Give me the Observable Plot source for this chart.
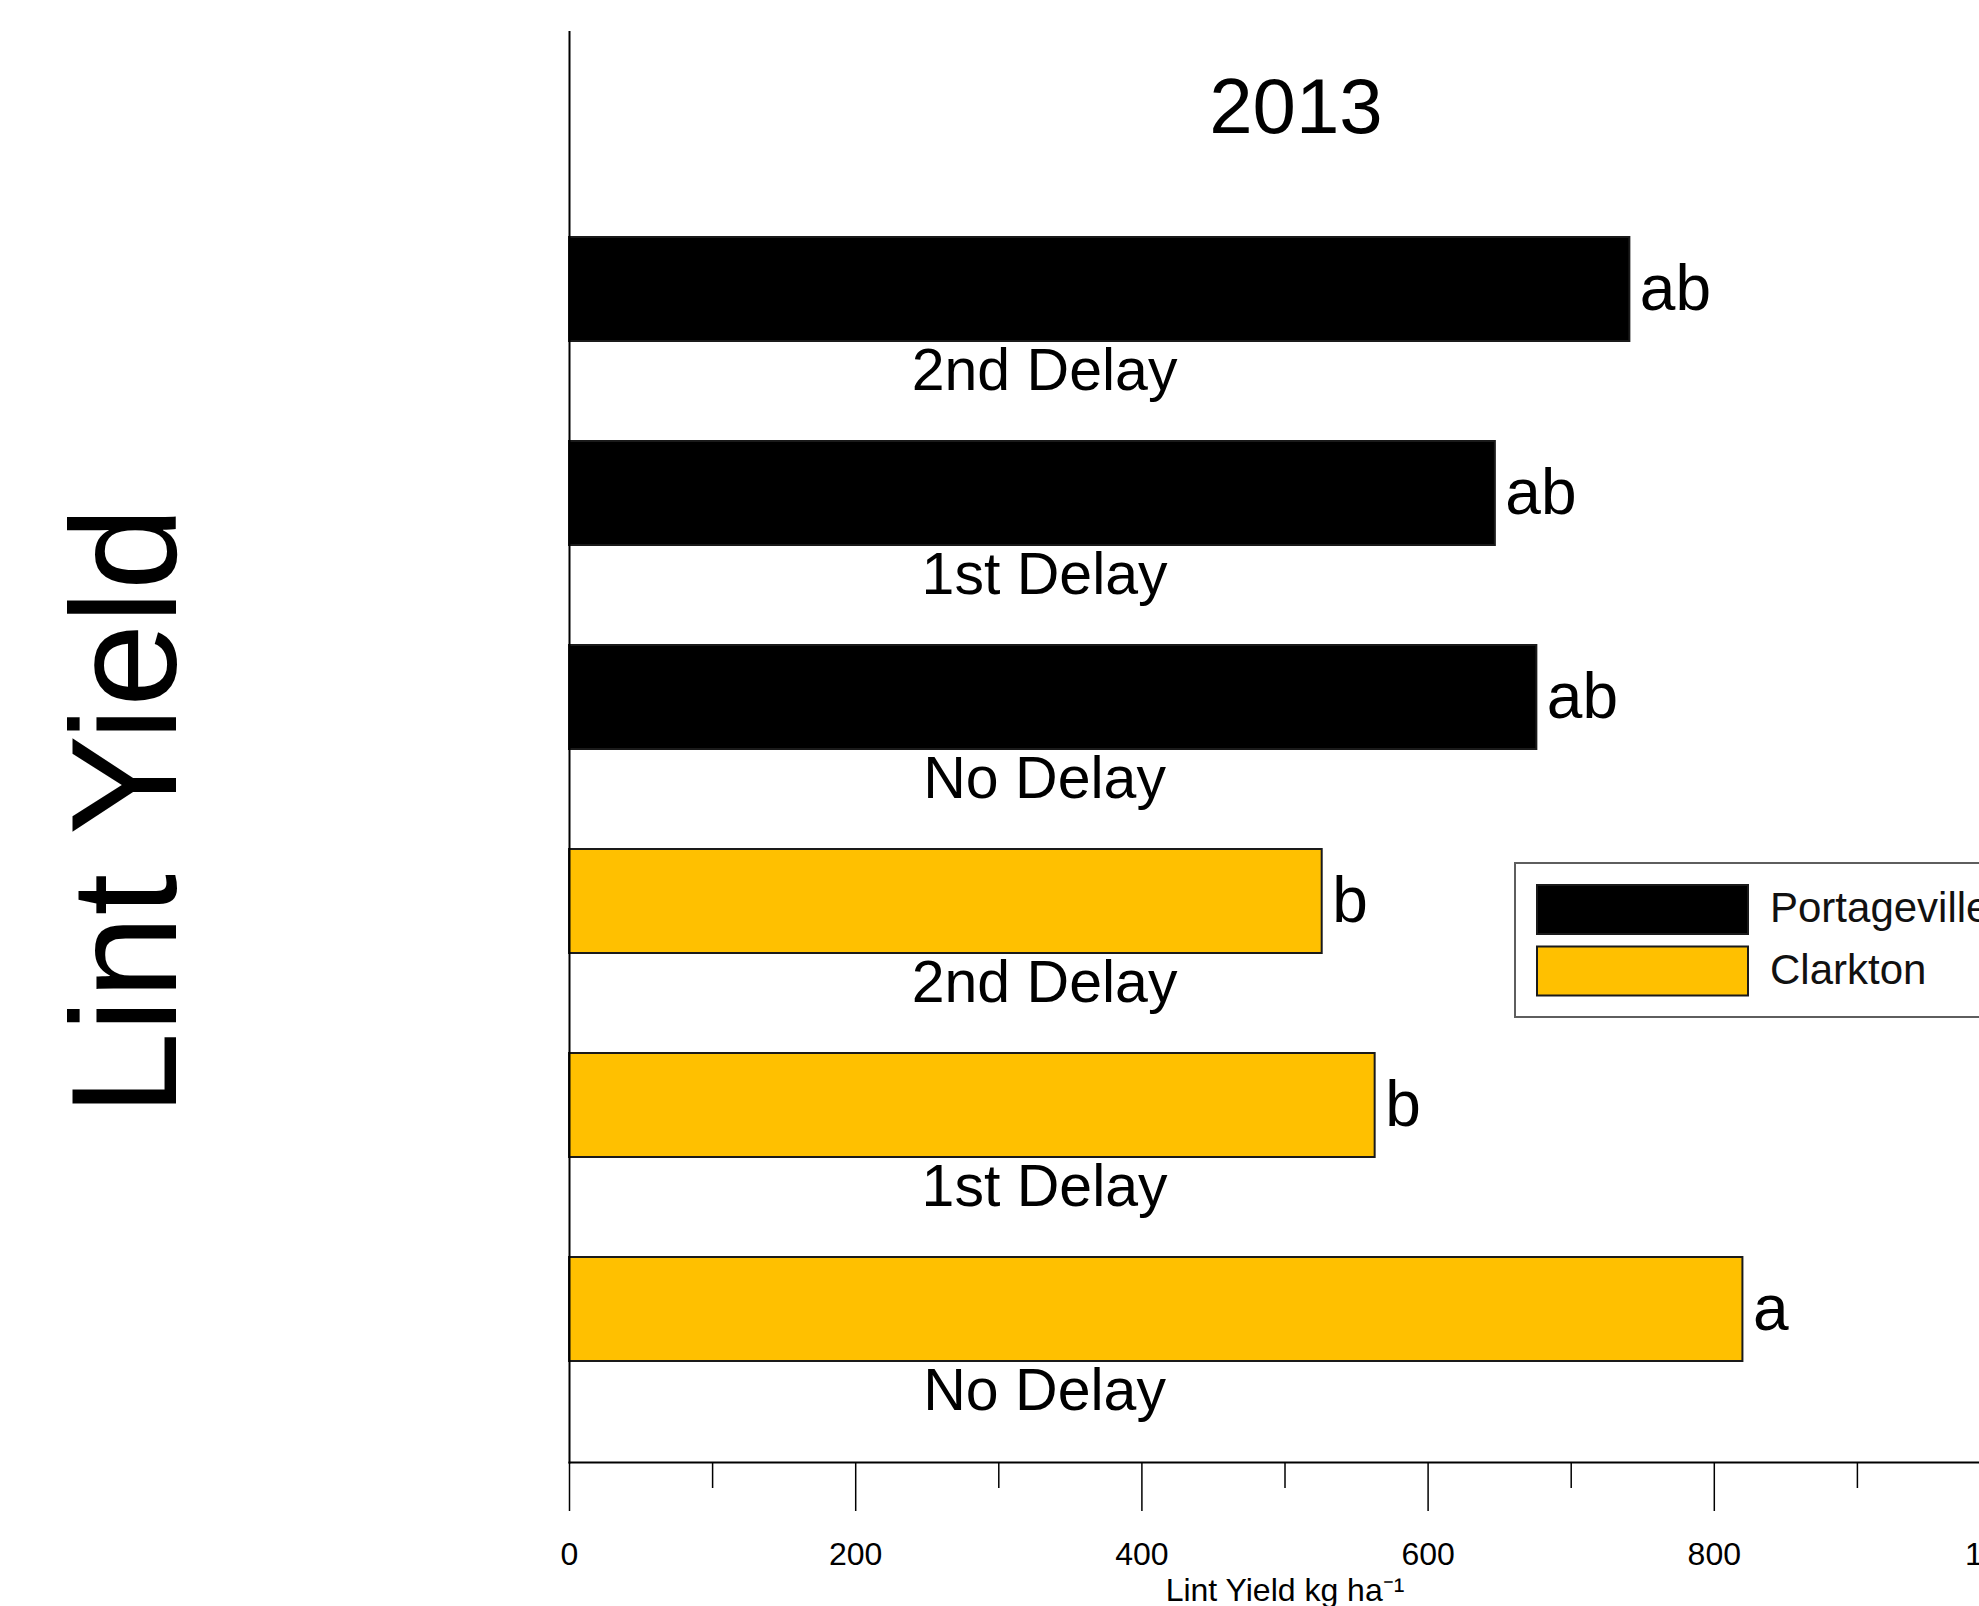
<!DOCTYPE html>
<html>
<head>
<meta charset="utf-8">
<script src="https://cdn.jsdelivr.net/npm/d3@7"></script>
<script src="https://cdn.jsdelivr.net/npm/@observablehq/plot@0.6"></script>
<style>
  html, body { margin: 0; padding: 0; background: #fff; overflow: hidden; }
  #wrap { position: relative; width: 1979px; height: 1606px; overflow: hidden; background: #fff; }
  #wrap svg.legend { position: absolute; left: 1514px; top: 862px; }
</style>
</head>
<body>
<div id="wrap"></div>
<script>
// Cotton lint yield, 2013, by site and planting delay
const sites = ["Portageville", "Clarkton"];
const siteColors = ["#000000", "#FFC000"];
const treatments = ["2nd Delay", "1st Delay", "No Delay"];
const portagevilleYield = [741, 647, 676];
const clarktonYield = [526, 563, 820];
const portagevilleLetters = ["ab", "ab", "ab"];
const clarktonLetters = ["b", "b", "a"];
const xTicks = [0, 200, 400, 600, 800, 1000];
const xMinorTicks = [100, 300, 500, 700, 900];
const title = "2013";
const yTitle = "Lint Yield";
const xTitle = "Lint Yield kg ha\u207B\u00B9";

// one row per bar, top to bottom
const rows = [];
treatments.forEach((t, i) => rows.push({key: `Portageville ${t}`, site: "Portageville", treatment: t, yield: portagevilleYield[i], letter: portagevilleLetters[i]}));
treatments.forEach((t, i) => rows.push({key: `Clarkton ${t}`, site: "Clarkton", treatment: t, yield: clarktonYield[i], letter: clarktonLetters[i]}));

// treatment names sit under each bar, centred on this yield value
const treatmentLabelX = 332;

const font = "'Liberation Sans', Arial, Helvetica, sans-serif";

const chart = Plot.plot({
  width: 2060,
  height: 1606,
  marginLeft: 569,
  marginRight: 60,
  marginTop: 31.6,
  marginBottom: 144,
  style: {fontFamily: font, background: "white", maxWidth: "none", overflow: "visible", color: "black"},
  x: {domain: [0, 1000], label: xTitle},
  y: {domain: rows.map(d => d.key), paddingInner: 0.489, paddingOuter: 0.7445, align: 0.6716, axis: null},
  color: {domain: sites, range: siteColors},
  marks: [
    Plot.barX(rows, {x: "yield", y: "key", fill: "site", stroke: "#1a1a1a", strokeWidth: 2}),
    Plot.text(rows, {x: () => treatmentLabelX, y: "key", text: "treatment", fontSize: 59, lineAnchor: "bottom", dy: 100, fill: "black"}),
    Plot.text(rows, {x: "yield", y: "key", text: "letter", textAnchor: "start", dx: 10, fontSize: 64, lineAnchor: "middle", fill: "black"}),
    Plot.axisX({ticks: xMinorTicks, tickSize: 26, tickFormat: () => "", label: null, strokeWidth: 1.5}),
    Plot.axisX({ticks: xTicks, tickSize: 49, tickPadding: 31, fontSize: 32, tickFormat: d => String(d), strokeWidth: 1.5,
      label: xTitle, labelAnchor: "center", labelArrow: "none", labelOffset: 138}),
    Plot.frame({anchor: "left", strokeWidth: 2}),
    Plot.frame({anchor: "bottom", strokeWidth: 2}),
    Plot.text([title], {frameAnchor: "top", dx: 11, dy: 101, fontSize: 78, lineAnchor: "bottom", fill: "black"}),
    Plot.text([yTitle], {frameAnchor: "left", textAnchor: "middle", rotate: -90, dx: -394, dy: 64, fontSize: 150, lineAnchor: "bottom", fill: "black"})
  ]
});
document.getElementById("wrap").appendChild(chart);

// legend box with one swatch per site
const legend = d3.select("#wrap").append("svg")
  .attr("class", "legend")
  .attr("width", 480)
  .attr("height", 160)
  .style("font-family", font);
legend.append("rect")
  .attr("x", 1).attr("y", 1).attr("width", 600).attr("height", 154)
  .attr("fill", "white").attr("stroke", "#5e5e5e").attr("stroke-width", 2);
const item = legend.selectAll("g.item").data(sites).join("g")
  .attr("class", "item")
  .attr("transform", (d, i) => `translate(0, ${i * 61.5})`);
item.append("rect")
  .attr("x", 23).attr("y", 23).attr("width", 211).attr("height", 49)
  .attr("fill", (d, i) => siteColors[i])
  .attr("stroke", "#1a1a1a").attr("stroke-width", 2);
item.append("text")
  .attr("x", 256).attr("y", 60)
  .attr("font-size", 42)
  .attr("fill", "#111")
  .text(d => d);
</script>
</body>
</html>
